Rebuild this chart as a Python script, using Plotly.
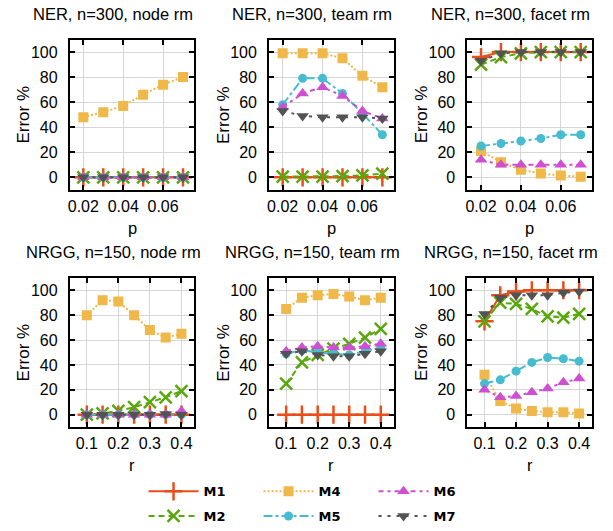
import plotly.graph_objects as go

# ---------------- data ----------------
p_vals = [0.02, 0.03, 0.04, 0.05, 0.06, 0.07]
r_vals = [0.1, 0.15, 0.2, 0.25, 0.3, 0.35, 0.4]

methods = ["M1", "M2", "M4", "M5", "M6", "M7"]

# NER, n=300, node rm
ner_node_m1 = [0, 0, 0, 0, 0, 0]
ner_node_m2 = [0, 0, 0, 0, 0, 0]
ner_node_m4 = [48, 52, 57, 66, 74, 80]
ner_node_m5 = [0, 0, 0, 0, 0, 0]
ner_node_m6 = [0, 0, 0, 0, 0, 0]
ner_node_m7 = [0, 0, 0, 0, 0, 0]

# NER, n=300, team rm
ner_team_m1 = [0, 0, 0, 0, 0, 0]
ner_team_m2 = [0.5, 0.5, 0.5, 1, 1.5, 3]
ner_team_m4 = [99, 99, 99, 95, 81, 72]
ner_team_m5 = [58, 79, 79, 67, 51, 34]
ner_team_m6 = [56, 67, 72, 65, 53, 47]
ner_team_m7 = [53, 49, 48, 48, 48, 47]

# NER, n=300, facet rm
ner_facet_m1 = [96, 100, 100, 100, 100, 100]
ner_facet_m2 = [90, 96, 99, 100, 100, 100]
ner_facet_m4 = [21, 12, 6, 3, 1.5, 0.5]
ner_facet_m5 = [25, 27, 29, 31, 34, 34]
ner_facet_m6 = [14, 10, 10, 10, 10, 10]
ner_facet_m7 = [93, 99, 100, 100, 100, 100]

# NRGG, n=150, node rm
nrgg_node_m1 = [0, 0, 0, 0, 0, 0, 0]
nrgg_node_m2 = [0, 1, 3, 6, 10, 14, 19]
nrgg_node_m4 = [80, 92, 91, 80, 68, 62, 65]
nrgg_node_m5 = [0, 0, 0, 0, 0, 0, 0]
nrgg_node_m6 = [0, 0, 0, 0, 0, 0, 3]
nrgg_node_m7 = [0, 0, 0, 0, 0, 0.5, 0]

# NRGG, n=150, team rm
nrgg_team_m1 = [0, 0, 0, 0, 0, 0, 0]
nrgg_team_m2 = [25, 42, 48, 53, 57, 62, 69]
nrgg_team_m4 = [85, 94, 96, 97, 95, 92, 94]
nrgg_team_m5 = [49, 52, 50, 49, 48, 51, 54]
nrgg_team_m6 = [51, 54, 55, 54, 54, 55, 57]
nrgg_team_m7 = [49, 51, 48, 47, 47, 49, 51]

# NRGG, n=150, facet rm
nrgg_facet_m1 = [75, 96, 99, 100, 100, 100, 100]
nrgg_facet_m2 = [75, 90, 89, 85, 79, 78, 81]
nrgg_facet_m4 = [32, 11, 5, 3, 2, 2, 1]
nrgg_facet_m5 = [25, 28, 35, 42, 46, 45, 43]
nrgg_facet_m6 = [20, 14, 15, 18, 21, 26, 29]
nrgg_facet_m7 = [81, 94, 96, 96, 96, 98, 99]

panel_titles = ["NER, n=300, node rm", "NER, n=300, team rm", "NER, n=300, facet rm",
                "NRGG, n=150, node rm", "NRGG, n=150, team rm", "NRGG, n=150, facet rm"]
y_ticks = [0, 20, 40, 60, 80, 100]
p_ticks = [0.02, 0.04, 0.06]
p_tick_labels = ["0.02", "0.04", "0.06"]
r_ticks = [0.1, 0.2, 0.3, 0.4]
r_tick_labels = ["0.1", "0.2", "0.3", "0.4"]

panels = [
    (p_vals, [ner_node_m1, ner_node_m2, ner_node_m4, ner_node_m5, ner_node_m6, ner_node_m7]),
    (p_vals, [ner_team_m1, ner_team_m2, ner_team_m4, ner_team_m5, ner_team_m6, ner_team_m7]),
    (p_vals, [ner_facet_m1, ner_facet_m2, ner_facet_m4, ner_facet_m5, ner_facet_m6, ner_facet_m7]),
    (r_vals, [nrgg_node_m1, nrgg_node_m2, nrgg_node_m4, nrgg_node_m5, nrgg_node_m6, nrgg_node_m7]),
    (r_vals, [nrgg_team_m1, nrgg_team_m2, nrgg_team_m4, nrgg_team_m5, nrgg_team_m6, nrgg_team_m7]),
    (r_vals, [nrgg_facet_m1, nrgg_facet_m2, nrgg_facet_m4, nrgg_facet_m5, nrgg_facet_m6, nrgg_facet_m7]),
]

# ---------------- styles ----------------
W, H = 613, 531


def px_x(v):
    return v / W


def px_y(v):
    return 1 - v / H


colors = {"M1": "#e84e1b", "M2": "#58a80c", "M4": "#f0b848",
          "M5": "#46bcd0", "M6": "#cf4fd2", "M7": "#535353"}
dashes = {"M1": "solid", "M2": "6px,4px", "M4": "2px,2px",
          "M5": "9px,3px,3px,3px", "M6": "5px,4px,3px,4px", "M7": "3px,6px"}
symbols = {"M1": "cross-thin", "M2": "x-thin", "M4": "square",
           "M5": "circle", "M6": "triangle-up", "M7": "triangle-down"}
sizes = {"M1": 13, "M2": 12, "M4": 10, "M5": 9, "M6": 11, "M7": 11}
legend_of = {"M1": "legend", "M4": "legend", "M6": "legend",
             "M2": "legend2", "M5": "legend2", "M7": "legend2"}
rank = {"M1": 1, "M4": 2, "M6": 3, "M2": 4, "M5": 5, "M7": 6}

# pixel boxes of the plot areas (x0, x1, ytop, ybottom)
col_x = [(68, 193), (268, 393), (467, 592)]
row_y = [(40, 192), (281, 432)]

FONT = "Liberation Sans, Arial, sans-serif"
fig = go.Figure()

for i, (xs, series) in enumerate(panels):
    ax = "" if i == 0 else str(i + 1)
    for m, ys in zip(methods, series):
        thin = symbols[m] in ("cross-thin", "x-thin")
        marker = dict(symbol=symbols[m], size=sizes[m], color=colors[m],
                      line=dict(color=colors[m], width=2.5 if thin else 0))
        fig.add_trace(go.Scatter(
            x=xs, y=ys, mode="lines+markers", name=m,
            line=dict(color=colors[m], width=2, dash=dashes[m]),
            marker=marker, xaxis="x" + ax, yaxis="y" + ax,
            showlegend=(i == 0), legend=legend_of[m], legendrank=rank[m]))

layout = dict(width=W, height=H, margin=dict(l=0, r=0, t=0, b=0),
              paper_bgcolor="white", plot_bgcolor="white",
              font=dict(family=FONT, size=15, color="black"))
annotations = []
for i in range(6):
    r, c = divmod(i, 3)
    x0, x1 = col_x[c]
    yt, yb = row_y[r]
    ax = "" if i == 0 else str(i + 1)
    is_p = r == 0
    common = dict(showline=True, linecolor="black", linewidth=2, mirror="ticks",
                  ticks="inside", ticklen=5, tickwidth=1.5, tickcolor="black",
                  showgrid=True, gridcolor="#d6d6d6", gridwidth=1, zeroline=False,
                  tickfont=dict(family=FONT, size=16))
    layout["xaxis" + ax] = dict(common, domain=[px_x(x0), px_x(x1)],
                                anchor="y" + ax, ticklabelstandoff=1,
                                range=[0.0132, 0.0757] if is_p else [0.046, 0.441],
                                tickvals=p_ticks if is_p else r_ticks,
                                ticktext=p_tick_labels if is_p else r_tick_labels)
    layout["yaxis" + ax] = dict(common, domain=[px_y(yb), px_y(yt)],
                                anchor="x" + ax, range=[-10, 110], ticklabelstandoff=7,
                                tickvals=y_ticks)
    # panel title
    annotations.append(dict(text=panel_titles[i], xref="paper", yref="paper",
                            x=px_x((x0 + x1) / 2 - 19), y=px_y(yt - 26),
                            xanchor="center", yanchor="middle", showarrow=False,
                            font=dict(family=FONT, size=16.5)))
    # y-axis title
    annotations.append(dict(text="Error %", xref="paper", yref="paper",
                            x=px_x(x0 - 46), y=px_y((yt + yb) / 2), textangle=-90,
                            xanchor="center", yanchor="middle", showarrow=False,
                            font=dict(family=FONT, size=17)))
    # x-axis title
    annotations.append(dict(text="p" if is_p else "r", xref="paper", yref="paper",
                            x=px_x((x0 + x1) / 2), y=px_y(yb + 27),
                            xanchor="center", yanchor="top", showarrow=False,
                            font=dict(family=FONT, size=16.5)))

legend_common = dict(orientation="h", xanchor="left", yanchor="middle",
                     entrywidth=50, entrywidthmode="pixels", itemwidth=50,
                     bgcolor="rgba(0,0,0,0)", traceorder="normal",
                     font=dict(family="DejaVu Sans, sans-serif", size=13, weight="bold"))
layout["legend"] = dict(legend_common, x=px_x(142), y=px_y(497))
layout["legend2"] = dict(legend_common, x=px_x(142), y=px_y(522))
layout["annotations"] = annotations
fig.update_layout(**layout)

# remove the browser's default 8px page margin so the figure fills the window
fig.write_html("out.html",
               config={"displayModeBar": False},
               post_script="document.body.style.margin='0px';"
                           "document.body.style.overflow='hidden';")
